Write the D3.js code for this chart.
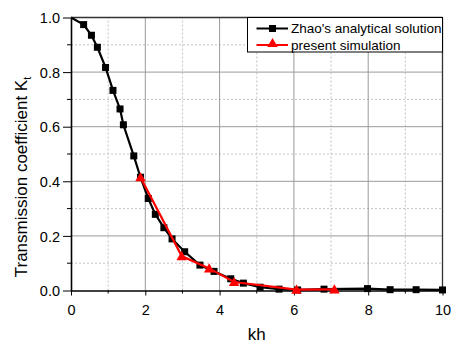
<!DOCTYPE html>
<html lang="en">
<head>
<meta charset="UTF-8">
<script src="https://d3js.org/d3.v7.min.js"></script>
<style>
body { margin: 0; background: #fff; }
svg text { font-family: "Liberation Sans", Arial, sans-serif; fill: #000; }
</style>
</head>
<body>
<svg id="chart" width="452" height="345"></svg>
<script>
// Zhao's analytical solution
var zhaoKh = [0, 0.34, 0.55, 0.71, 0.93, 1.13, 1.32, 1.41, 1.69, 1.87, 2.08, 2.27, 2.50, 2.72, 3.06, 3.47, 3.85, 4.30, 4.64, 5.09, 5.60, 6.10, 6.81, 7.98, 8.59, 9.29, 10.0]
var zhaoKt = [1.0, 0.974, 0.935, 0.891, 0.817, 0.733, 0.665, 0.607, 0.493, 0.415, 0.337, 0.279, 0.230, 0.189, 0.142, 0.093, 0.070, 0.043, 0.027, 0.012, 0.005, 0.002, 0.005, 0.007, 0.003, 0.003, 0.002]
// present simulation
var simKh = [1.87, 2.98, 3.72, 4.39, 6.07, 7.09]
var simKt = [0.415, 0.126, 0.081, 0.031, 0.003, 0.004]

var xTicks = [0, 2, 4, 6, 8, 10]
var yTicks = [0.0, 0.2, 0.4, 0.6, 0.8, 1.0]

var svg = d3.select("#chart"),
    margin = {top: 17.5, right: 9.5, bottom: 54.5, left: 71},
    width = +svg.attr("width"),
    height = +svg.attr("height");

var x = d3.scaleLinear().domain([0, 10]).range([margin.left, width - margin.right])
var y = d3.scaleLinear().domain([0, 1]).range([height - margin.bottom, margin.top])

var minorX = d3.range(1, 10, 2)
var minorY = d3.range(0.1, 1, 0.2)

// grid
var grid = svg.append("g")
grid.selectAll(".gx").data(minorX).enter().append("line")
    .attr("x1", d => x(d)).attr("x2", d => x(d))
    .attr("y1", y(0)).attr("y2", y(1))
    .attr("stroke", "#c4c4c4").attr("stroke-dasharray", "2,2")
grid.selectAll(".gy").data(minorY).enter().append("line")
    .attr("y1", d => y(d)).attr("y2", d => y(d))
    .attr("x1", x(0)).attr("x2", x(10))
    .attr("stroke", "#c4c4c4").attr("stroke-dasharray", "2,2")
grid.selectAll(".gX").data(xTicks.slice(1, -1)).enter().append("line")
    .attr("x1", d => x(d)).attr("x2", d => x(d))
    .attr("y1", y(0)).attr("y2", y(1))
    .attr("stroke", "#9a9a9a")
grid.selectAll(".gY").data(yTicks.slice(1, -1)).enter().append("line")
    .attr("y1", d => y(d)).attr("y2", d => y(d))
    .attr("x1", x(0)).attr("x2", x(10))
    .attr("stroke", "#9a9a9a")

// frame top / right
svg.append("line").attr("x1", x(0)).attr("x2", x(10)).attr("y1", y(1)).attr("y2", y(1))
    .attr("stroke", "#333").attr("stroke-width", 1.3)
svg.append("line").attr("x1", x(10)).attr("x2", x(10)).attr("y1", y(0)).attr("y2", y(1))
    .attr("stroke", "#333").attr("stroke-width", 1.3)

// axes
var xAxis = d3.axisBottom(x).tickValues(xTicks).tickSize(5).tickSizeOuter(0).tickFormat(d3.format("d"))
var yAxis = d3.axisLeft(y).tickValues(yTicks).tickSize(8).tickSizeOuter(0).tickFormat(d3.format(".1f"))

var gx = svg.append("g").attr("transform", `translate(0,${y(0)})`).call(xAxis)
gx.selectAll(".minor").data(minorX).enter().append("line")
    .attr("x1", d => x(d)).attr("x2", d => x(d)).attr("y1", 0).attr("y2", 3)
    .attr("stroke", "#000")
gx.selectAll("text").attr("dy", 0).attr("y", 24.5).style("font-size", "14.5px")

var gy = svg.append("g").attr("transform", `translate(${x(0)},0)`).call(yAxis)
gy.selectAll(".minor").data(minorY).enter().append("line")
    .attr("y1", d => y(d)).attr("y2", d => y(d)).attr("x1", 0).attr("x2", -4)
    .attr("stroke", "#000")
gy.selectAll("text").attr("x", -11).attr("dy", "0.36em").style("font-size", "14.5px")

svg.selectAll(".domain").attr("stroke", "#000").attr("stroke-width", 1.6)
svg.selectAll(".tick line").attr("stroke", "#000")

// axis titles
svg.append("text").attr("x", x(5)).attr("y", 340).attr("text-anchor", "middle")
    .attr("fill", "#000").style("font-size", "17px").text("kh")
var yt = svg.append("text").attr("transform", "translate(27,177) rotate(-90)")
    .attr("text-anchor", "middle").attr("fill", "#000").style("font-size", "17px")
yt.append("tspan").text("Transmission coefficient K")
yt.append("tspan").attr("dy", 4).style("font-size", "11px").text("t")

// data
var zhao = zhaoKh.map((d, i) => ({x: d, y: zhaoKt[i]}))
var sim = simKh.map((d, i) => ({x: d, y: simKt[i]}))
var line = d3.line().x(d => x(d.x)).y(d => y(d.y))

svg.append("path").datum(zhao).attr("d", line)
    .attr("fill", "none").attr("stroke", "#000").attr("stroke-width", 2.2)
svg.selectAll(".sq").data(zhao.filter(d => d.x > 0)).enter().append("rect")
    .attr("x", d => x(d.x) - 3.5).attr("y", d => y(d.y) - 3.5)
    .attr("width", 7).attr("height", 7).attr("fill", "#000")

svg.append("path").datum(sim).attr("d", line)
    .attr("fill", "none").attr("stroke", "#f00").attr("stroke-width", 2.2)
var tri = d3.symbol().type(d3.symbolTriangle).size(48)
svg.selectAll(".tri").data(sim).enter().append("path")
    .attr("d", tri).attr("transform", d => `translate(${x(d.x)},${y(d.y) + 1})`)
    .attr("fill", "#f00")

// legend
var lg = svg.append("g")
lg.append("rect").attr("x", 247.5).attr("y", 17.5).attr("width", 195).attr("height", 34.5)
    .attr("fill", "#fff").attr("stroke", "#000").attr("stroke-width", 1)
var legendItems = [
    {label: "Zhao's analytical solution", color: "#000", sym: "sq", yy: 28.5},
    {label: "present simulation", color: "#f00", sym: "tri", yy: 45}
]
legendItems.forEach(function(it) {
    lg.append("line").attr("x1", 256.5).attr("x2", 288).attr("y1", it.yy).attr("y2", it.yy)
        .attr("stroke", it.color).attr("stroke-width", 2)
    if (it.sym == "sq") {
        lg.append("rect").attr("x", 269).attr("y", it.yy - 3.5).attr("width", 7).attr("height", 7).attr("fill", it.color)
    } else {
        lg.append("path").attr("d", tri).attr("transform", `translate(272.5,${it.yy - 1})`).attr("fill", it.color)
    }
    lg.append("text").attr("x", 291).attr("y", it.yy).attr("dy", "0.35em")
        .style("font-size", "13.5px").text(it.label)
})
</script>
</body>
</html>
